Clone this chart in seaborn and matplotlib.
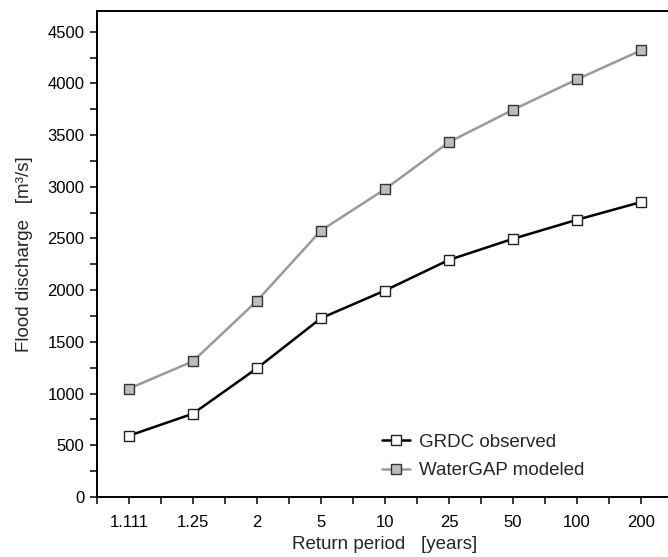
import pandas as pd
import matplotlib.pyplot as plt
import seaborn as sns

periods = ["1.111", "1.25", "2", "5", "10", "25", "50", "100", "200"]
grdc = [593, 806, 1245, 1729, 1997, 2293, 2497, 2681, 2852]
watergap = [1048, 1313, 1897, 2577, 2977, 3432, 3745, 4039, 4319]

df = pd.DataFrame({"period": periods, "grdc": grdc, "watergap": watergap})

sns.set_style("ticks")
plt.rcParams["font.family"] = ["Liberation Sans", "DejaVu Sans"]
plt.rcParams["font.size"] = 12

fig = plt.figure(figsize=(6.68, 5.57), dpi=100)
# axes runs a bit past the right edge of the figure, like the original
ax = fig.add_axes([97 / 668, 1 - 497 / 557, 576 / 668, 486 / 557])

sns.lineplot(data=df, x="period", y="watergap", ax=ax, color="#9a9a9a", lw=1.8,
             marker="s", ms=6.5, mfc="#bdbdbd", mec="#333333", mew=1.0,
             label="WaterGAP modeled")
sns.lineplot(data=df, x="period", y="grdc", ax=ax, color="black", lw=1.8,
             marker="s", ms=6.5, mfc="white", mec="#222222", mew=1.0,
             label="GRDC observed")

ax.set_xlim(-0.5, len(periods) - 0.5)
ax.set_ylim(0, 4700)
ax.set_yticks(range(0, 4501, 500))
ax.set_yticks(range(250, 4700, 500), minor=True)
ax.set_xticks([i - 0.5 for i in range(len(periods) + 1)], minor=True)
ax.set_xticks(range(len(periods)))
ax.set_xticklabels(periods)
ax.tick_params(which="both", direction="out", length=5, width=1.1, colors="black",
               labelsize=12, pad=8)
ax.tick_params(axis="y", pad=4)

for s in ["left", "bottom", "top"]:
    ax.spines[s].set_linewidth(1.4)
    ax.spines[s].set_color("black")
ax.spines["right"].set_visible(False)

ax.set_xlabel("Return period   [years]", fontsize=13.5, labelpad=4)
ax.set_ylabel("Flood discharge   [m³/s]", fontsize=13.5, labelpad=10)

h, l = ax.get_legend_handles_labels()
ax.legend(h[::-1], l[::-1], loc="center left", bbox_to_anchor=(0.465, 0.083),
          frameon=False, handlelength=1.5, handletextpad=0.48,
          labelspacing=0.6, fontsize=13.5)

fig.savefig("out.png", dpi=100)
